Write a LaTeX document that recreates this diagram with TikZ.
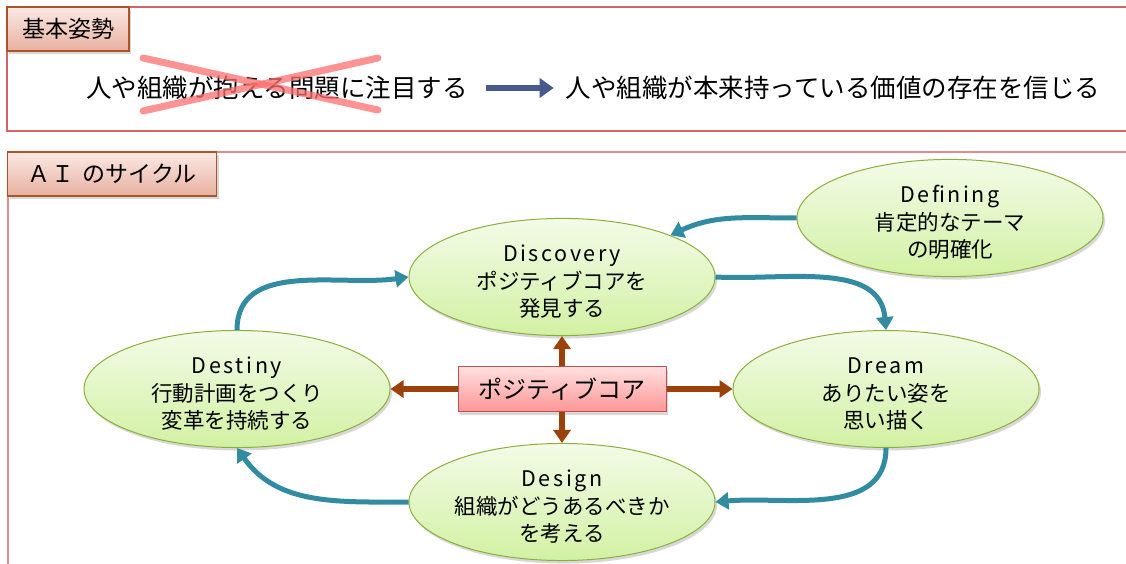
\documentclass[tikz,border=0pt]{standalone}
\usepackage{fontspec}
\setmainfont{Noto Sans CJK JP}
\usetikzlibrary{arrows.meta,shapes.geometric,shadows}
\definecolor{linetop}{RGB}{212,100,100}
\definecolor{linebot}{RGB}{224,140,140}
\definecolor{elltop}{RGB}{243,251,232}
\definecolor{ellbot}{RGB}{210,241,163}
\definecolor{ellline}{RGB}{140,175,60}
\definecolor{coretop}{RGB}{255,224,224}
\definecolor{corebot}{RGB}{255,150,150}
\definecolor{coreline}{RGB}{192,80,77}
\definecolor{labtop}{RGB}{251,233,228}
\definecolor{labbot}{RGB}{232,176,160}
\definecolor{labline}{RGB}{170,85,40}
\definecolor{tealc}{RGB}{49,140,162}
\definecolor{brownc}{RGB}{155,66,10}
\definecolor{bluec}{RGB}{70,88,140}
\definecolor{crossc}{RGB}{255,110,110}
\newcommand\lsp[1]{\rule{0pt}{26pt}{\addfontfeatures{LetterSpace=12}#1}}
\tikzset{
  ell/.style={ellipse, draw=ellline, line width=1pt, top color=elltop, bottom color=ellbot,
    minimum width=306pt, minimum height=108pt, inner sep=0pt, align=center,
    font=\fontsize{21.5}{27.5}\selectfont,
    drop shadow={shadow xshift=2pt, shadow yshift=-3pt, opacity=0.3}},
  corebox/.style={rectangle, draw=coreline, line width=1pt, top color=coretop, bottom color=corebot,
    minimum width=208pt, minimum height=45pt, inner sep=0pt,
    font=\fontsize{24}{28}\selectfont,
    drop shadow={shadow xshift=2pt, shadow yshift=-3pt, opacity=0.3}},
  labbox/.style={rectangle, draw=labline, line width=1.2pt, top color=labtop, bottom color=labbot,
    minimum height=44pt, inner sep=0pt, font=\fontsize{23}{26}\selectfont,
    drop shadow={shadow xshift=2pt, shadow yshift=-3pt, opacity=0.3}},
  bigtext/.style={inner sep=0pt, font=\fontsize{25.5}{30}\selectfont},
  tarr/.style={draw=tealc, line width=5pt, -{Triangle[length=13pt,width=17pt]}},
  barr/.style={draw=brownc, line width=5.5pt, -{Triangle[length=13pt,width=17pt]}},
  blarr/.style={draw=bluec, line width=6pt, -{Triangle[length=14pt,width=19pt]}},
  crossline/.style={draw=crossc, line width=7pt, line cap=round, opacity=0.75},
}
\begin{document}
\begin{tikzpicture}[x=1pt,y=1pt]
\useasboundingbox (0,0) rectangle (1126,-564);
\fill[white] (0,0) rectangle (1126,-564);
% section frames
\draw[linetop, line width=1.3pt] (7,-7) rectangle (1140,-131);
\draw[linebot, line width=1.3pt] (8,-570) -- (8,-152) -- (1140,-152);
% top section
\node[labbox, minimum width=122pt] (lab1) at (68,-29) {基本姿勢};
\node[bigtext] (oldv) at (277,-88) {人や組織が抱える問題に注目する};
\node[bigtext] (newv) at (833,-88) {人や組織が本来持っている価値の存在を信じる};
\draw[blarr, shorten <=18pt, shorten >=12pt] (oldv.east) -- (newv.west);
\coordinate (xa) at (143,-58);
\coordinate (xb) at (378,-110);
\coordinate (xc) at (143,-111);
\coordinate (xd) at (378,-58);
\draw[crossline] (xa) -- (xb);
\draw[crossline] (xc) -- (xd);
% bottom section
\node[labbox, minimum width=209pt] (lab2) at (112,-174) {{\addfontfeatures{LetterSpace=8}ＡＩ}\hspace{8pt}のサイクル};
\node[ell] (disc) at (562,-277) {\lsp{Discovery}\\ポジティブコアを\\発見する};
\node[ell] (def) at (950,-218) {\lsp{Defining}\\肯定的なテーマ\\の明確化};
\node[ell] (dream) at (886,-389) {\lsp{Dream}\\ありたい姿を\\思い描く};
\node[ell] (dest) at (237,-389) {\lsp{Destiny}\\行動計画をつくり\\変革を持続する};
\node[ell] (design) at (562,-502) {\lsp{Design}\\組織がどうあるべきか\\を考える};
\node[corebox] (core) at (562,-389) {ポジティブコア};
% brown arrows
\draw[barr] (core.north) -- (disc.south);
\draw[barr] (core.south) -- (design.north);
\draw[barr] (core.west) -- (dest.east);
\draw[barr] (core.east) -- (dream.west);
% teal cycle arrows
\draw[tarr] (dest.north) to[out=90,in=188] (disc.west);
\draw[tarr] (disc.east) to[out=-3,in=95] (dream.north);
\draw[tarr] (dream.south) to[out=-90,in=5] (design.east);
\draw[tarr] (design.west) to[out=180,in=-55] (dest.south);
\draw[tarr] (def.west) to[out=180,in=25] (disc.north east);
\end{tikzpicture}
\end{document}
